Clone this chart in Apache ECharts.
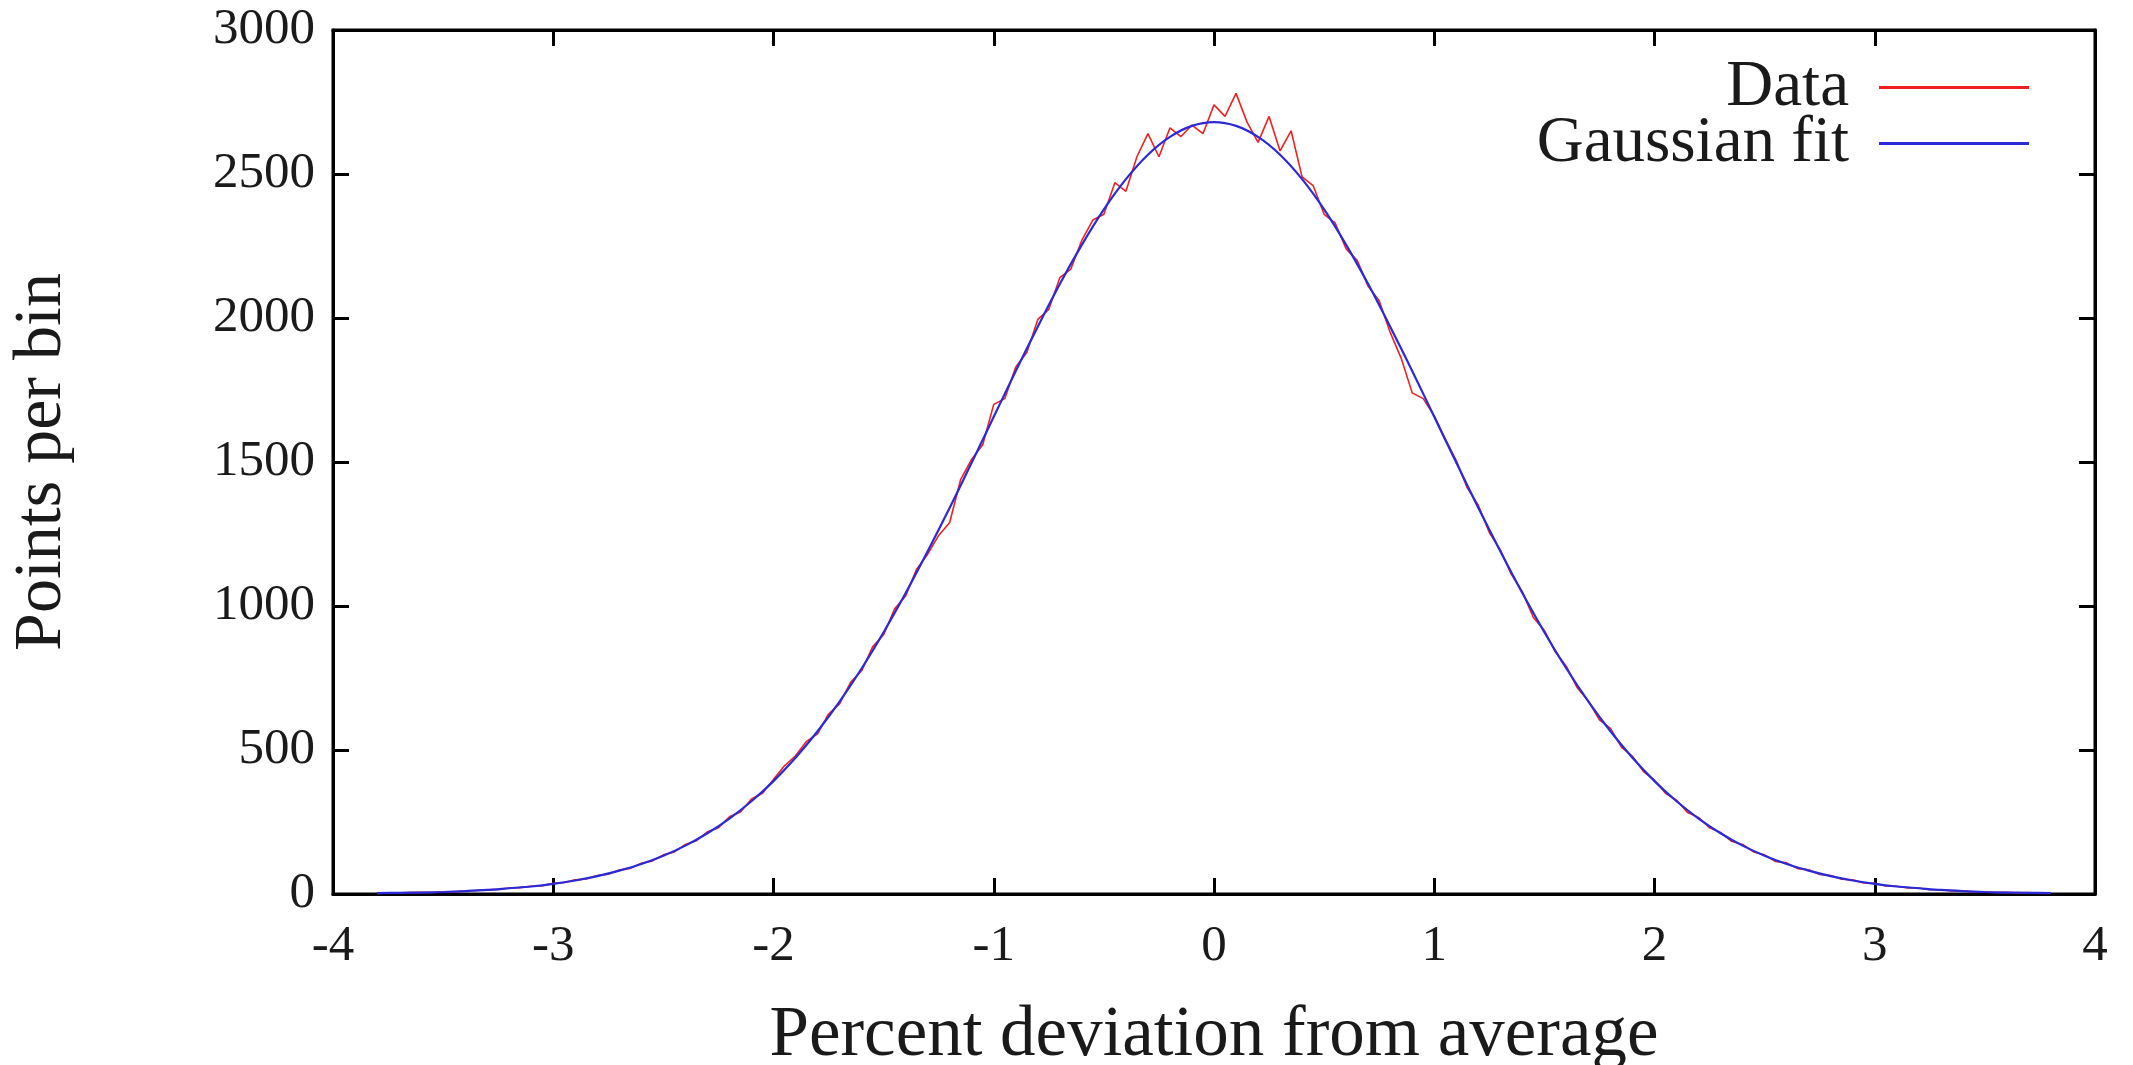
<!DOCTYPE html>
<html>
<head>
<meta charset="utf-8">
<script src="https://cdn.jsdelivr.net/npm/echarts@6/dist/echarts.min.js"></script>
<style>
  html, body { margin: 0; padding: 0; background: #fff; }
  #main { width: 2133px; height: 1065px; }
</style>
</head>
<body>
<div id="main"></div>
<script>
// bin centres run from -3.8 to 3.8 in steps of 0.05
var binStart = -3.8;
var binStep = 0.05;

// measured points per bin (red, noisy)
var dataCounts = [
  2, 4, 3, 5, 6, 5, 8, 7, 11, 12,
  15, 16, 21, 22, 27, 29, 37, 40, 49, 52,
  64, 69, 83, 89, 107, 115, 136, 146, 172, 185,
  216, 230, 268, 285, 330, 350, 398, 445, 480, 530,
  556, 625, 660, 735, 775, 858, 900, 990, 1035, 1128,
  1180, 1245, 1290, 1440, 1510, 1560, 1700, 1720, 1830, 1880,
  1995, 2030, 2140, 2170, 2270, 2340, 2360, 2470, 2440, 2560,
  2640, 2560, 2660, 2630, 2670, 2640, 2740, 2700, 2780, 2680,
  2610, 2700, 2580, 2650, 2490, 2460, 2360, 2330, 2240, 2200,
  2110, 2060, 1950, 1860, 1740, 1720, 1660, 1580, 1505, 1410,
  1350, 1255, 1195, 1110, 1050, 960, 915, 840, 790, 715,
  670, 605, 575, 510, 478, 425, 395, 350, 326, 283,
  266, 230, 214, 183, 172, 146, 136, 113, 108, 88,
  84, 68, 64, 51, 49, 38, 37, 28, 27, 21,
  21, 15, 15, 11, 11, 7, 8, 5, 6, 3,
  5, 2, 3
];

// gaussian fit, x from -3.8 to 3.8 in steps of 0.1
var fitX = [
  -3.8, -3.7, -3.6, -3.5, -3.4, -3.3, -3.2, -3.1, -3.0, -2.9,
  -2.8, -2.7, -2.6, -2.5, -2.4, -2.3, -2.2, -2.1, -2.0, -1.9,
  -1.8, -1.7, -1.6, -1.5, -1.4, -1.3, -1.2, -1.1, -1.0, -0.9,
  -0.8, -0.7, -0.6, -0.5, -0.4, -0.3, -0.2, -0.1, 0.0, 0.1,
  0.2, 0.3, 0.4, 0.5, 0.6, 0.7, 0.8, 0.9, 1.0, 1.1,
  1.2, 1.3, 1.4, 1.5, 1.6, 1.7, 1.8, 1.9, 2.0, 2.1,
  2.2, 2.3, 2.4, 2.5, 2.6, 2.7, 2.8, 2.9, 3.0, 3.1,
  3.2, 3.3, 3.4, 3.5, 3.6, 3.7, 3.8
];
var fitY = [
  3, 4, 5, 7, 10, 14, 20, 26, 35, 47,
  62, 81, 104, 133, 168, 211, 262, 322, 392, 473,
  565, 668, 783, 909, 1045, 1190, 1341, 1498, 1657, 1816,
  1970, 2118, 2254, 2377, 2482, 2567, 2629, 2667, 2680, 2667,
  2629, 2567, 2482, 2377, 2254, 2118, 1970, 1816, 1657, 1498,
  1341, 1190, 1045, 909, 783, 668, 565, 473, 392, 322,
  262, 211, 168, 133, 104, 81, 62, 47, 35, 26,
  20, 14, 10, 7, 5, 4, 3
];

var seriesNames = ['Data', 'Gaussian fit'];
var xTitle = 'Percent deviation from average';
var yTitle = 'Points per bin';

var dataPoints = dataCounts.map(function (v, i) {
    return [+(binStart + i * binStep).toFixed(2), v];
});
var fitPoints = fitX.map(function (x, i) {
    return [x, fitY[i]];
});

var font = 'Liberation Serif';
var ink = '#1a1a1a';

function plain(v) { return String(v); }

var frameLine = { show: true, onZero: false, lineStyle: { color: '#000', width: 3 } };
var innerTick = { show: true, inside: true, length: 16, lineStyle: { color: '#000', width: 3 } };

var myChart = echarts.init(document.getElementById('main'), null, { renderer: 'canvas' });

var option = {
    backgroundColor: '#ffffff',
    animation: false,
    grid: {
        left: 333,
        right: 38,
        top: 30,
        bottom: 171,
        outerBoundsMode: 'none',
        show: true,
        borderColor: '#000',
        borderWidth: 3,
        backgroundColor: 'transparent'
    },
    legend: {
        orient: 'vertical',
        right: 99,
        top: 50,
        align: 'right',
        itemWidth: 150,
        itemHeight: 3,
        itemGap: -9,
        icon: 'rect',
        textStyle: { fontFamily: font, fontSize: 65, color: ink, padding: [0, 25, 0, 0] },
        data: seriesNames
    },
    xAxis: [
        {
            type: 'value',
            min: -4,
            max: 4,
            interval: 1,
            name: xTitle,
            nameLocation: 'middle',
            nameGap: 107,
            nameTextStyle: { fontFamily: font, fontSize: 71, color: ink },
            axisLine: frameLine,
            axisTick: innerTick,
            axisLabel: { fontFamily: font, fontSize: 51, color: ink, margin: 27, formatter: plain },
            splitLine: { show: false }
        },
        {
            type: 'value',
            position: 'top',
            min: -4,
            max: 4,
            interval: 1,
            axisLine: frameLine,
            axisTick: innerTick,
            axisLabel: { show: false },
            splitLine: { show: false }
        }
    ],
    yAxis: [
        {
            type: 'value',
            min: 0,
            max: 3000,
            interval: 500,
            name: yTitle,
            nameLocation: 'middle',
            nameGap: 257,
            nameRotate: 90,
            nameTextStyle: { fontFamily: font, fontSize: 68, color: ink },
            axisLine: frameLine,
            axisTick: innerTick,
            axisLabel: { fontFamily: font, fontSize: 51, color: ink, margin: 18, formatter: plain },
            splitLine: { show: false }
        },
        {
            type: 'value',
            position: 'right',
            min: 0,
            max: 3000,
            interval: 500,
            axisLine: frameLine,
            axisTick: innerTick,
            axisLabel: { show: false },
            splitLine: { show: false }
        }
    ],
    series: [
        {
            name: seriesNames[0],
            type: 'line',
            data: dataPoints,
            showSymbol: false,
            symbol: 'none',
            lineStyle: { color: '#f02020', width: 1.6 },
            itemStyle: { color: '#f02020' },
            z: 2
        },
        {
            name: seriesNames[1],
            type: 'line',
            data: fitPoints,
            smooth: 0.3,
            showSymbol: false,
            symbol: 'none',
            lineStyle: { color: '#2a2ad8', width: 2.2 },
            itemStyle: { color: '#2a2ad8' },
            z: 3
        }
    ]
};

myChart.setOption(option);
</script>
</body>
</html>
